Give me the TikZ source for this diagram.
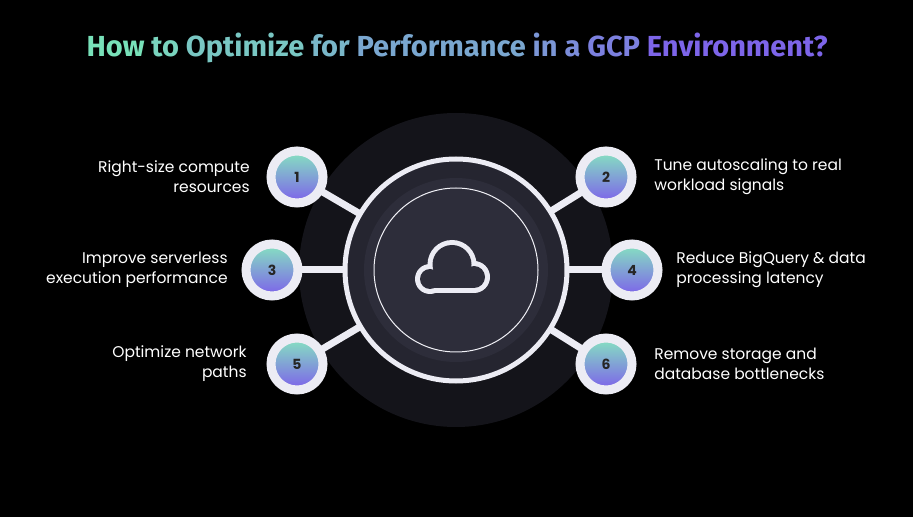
\documentclass[tikz,border=0pt]{standalone}
\usepackage{fontspec}
\setmainfont{Poppins}
\newfontfamily\titlefont{Fira Sans}
\definecolor{tealA}{RGB}{120,225,185}
\definecolor{violetA}{RGB}{125,95,235}
\definecolor{ringwhite}{RGB}{236,236,244}
\definecolor{halo}{RGB}{20,20,26}
\definecolor{hub}{RGB}{37,37,48}
\definecolor{hubin}{RGB}{45,45,58}
\tikzset{every picture/.style={line width=0.75pt}}
\tikzset{
  num/.style={circle, minimum size=52pt, inner sep=0pt, draw=ringwhite, line width=9pt,
    top color=tealA!90!white, bottom color=violetA, font=\fontsize{14}{14}\selectfont\bfseries, text=black!85},
  link/.style={draw=ringwhite, line width=7pt},
  lbl/.style={text=white, font=\fontsize{15.5}{20}\selectfont, inner sep=0pt}
}
\newcommand{\tw}[2]{\textcolor{tealA!#1!violetA}{#2}}
\begin{document}
\begin{tikzpicture}[x=1pt,y=1pt]
    \fill[black] (0,0) rectangle (913,517);

    % title
    \node[font=\titlefont\fontsize{29}{29}\selectfont\bfseries] (title) at (457,469)
      {\tw{100}{How} \tw{90}{to} \tw{80}{Optimize} \tw{68}{for} \tw{55}{Performance} \tw{42}{in} \tw{35}{a} \tw{25}{GCP} \tw{5}{Environment?}};

    % halo and hub
    \fill[halo] (456,247) circle (157);
    \coordinate (hub) at (456,247);
    \coordinate (p1) at (297,340);
    \coordinate (p2) at (606,340);
    \coordinate (p3) at (272,247);
    \coordinate (p4) at (632,247);
    \coordinate (p5) at (297,153);
    \coordinate (p6) at (606,153);

    % links
    \foreach \s in {1,...,6}
      \path[link] (hub) -- (p\s);
    \foreach \s in {1,...,6}
      \node[num] (s\s) at (p\s) {\s};

    \fill[hub, draw=ringwhite, line width=5pt] (hub) circle (111);
    \fill[hubin] (hub) circle (92);
    \draw[ringwhite!80, line width=1pt] (hub) circle (82);

    % cloud icon
    \fill[ringwhite] (452,252.5) circle (24.5);
    \fill[ringwhite] (474,240) circle (16);
    \fill[ringwhite] (430,238) circle (15);
    \fill[ringwhite] (430,224) rectangle (474,240);
    \fill[hubin] (452,252.5) circle (19.5);
    \fill[hubin] (474,240) circle (11);
    \fill[hubin] (430,238) circle (10);
    \fill[hubin] (430,229) rectangle (474,240);

    % labels
    \node[lbl, align=right, anchor=east] (l1) at (250,340) {Right-size compute\\resources};
    \node[lbl, align=right, anchor=east] (l3) at (228,247) {Improve serverless\\execution performance};
    \node[lbl, align=right, anchor=east] (l5) at (247,153) {Optimize network\\paths};
    \node[lbl, align=left, anchor=west] (l2) at (654,340) {Tune autoscaling to real\\workload signals};
    \node[lbl, align=left, anchor=west] (l4) at (676,247) {Reduce BigQuery \& data\\processing latency};
    \node[lbl, align=left, anchor=west] (l6) at (654,153) {Remove storage and\\database bottlenecks};
\end{tikzpicture}
\end{document}
